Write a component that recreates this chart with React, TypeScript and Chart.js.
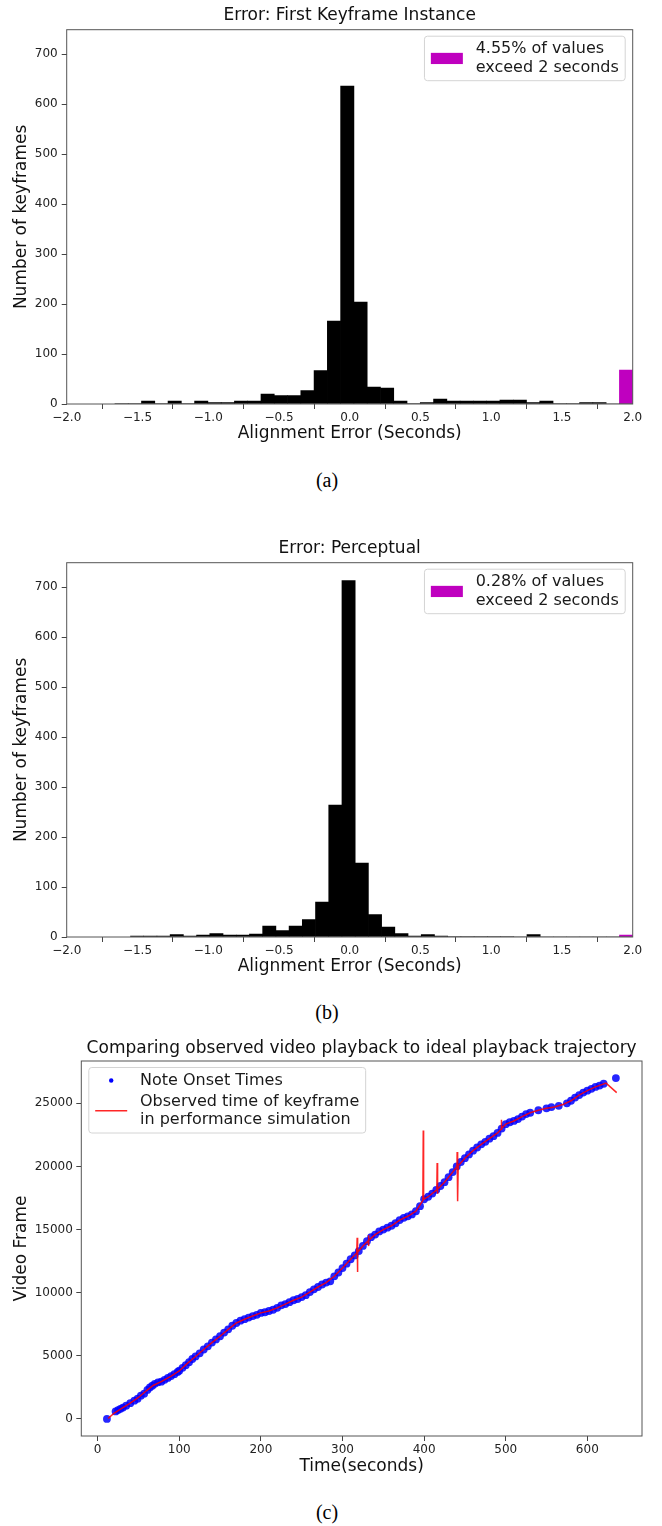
import React, { useEffect, useRef } from "react";
import { Chart, registerables } from "chart.js";
Chart.register(...registerables);

const FONT = "'DejaVu Sans', 'Noto Sans', sans-serif";

// ---------- Histogram (a) ----------
const A_TITLE = "Error: First Keyframe Instance";
const A_BIN_START = -1.659;
const A_BIN_END = 2.0;
const A_COUNTS = [1, 1, 6, 1, 6, 1, 6, 3, 3, 6, 6, 20, 17, 17, 27, 67, 166, 636, 204, 34, 32, 6, 1, 3, 10, 6, 6, 6, 6, 8, 8, 3, 6, 1, 1, 3, 3, 0, 0];
const A_OVER = 68;
const A_LEGEND = ["4.55% of values", "exceed 2 seconds"];

// ---------- Histogram (b) ----------
const B_TITLE = "Error: Perceptual";
const B_BIN_START = -1.549;
const B_BIN_END = 2.0;
const B_COUNTS = [2, 2, 2, 5, 2, 4, 7, 4, 4, 6, 22, 13, 22, 35, 70, 264, 713, 148, 45, 20, 7, 2, 5, 2, 1, 1, 1, 1, 1, 0, 5, 0, 0, 0, 0, 0, 0, 0];
const B_OVER = 4;
const B_LEGEND = ["0.28% of values", "exceed 2 seconds"];

const HIST_X_TICKS = [-2, -1.5, -1, -0.5, 0, 0.5, 1, 1.5, 2];
const HIST_Y_TICKS = [0, 100, 200, 300, 400, 500, 600, 700];
const HIST_Y_MAX = 748.65;
const HIST_X_TITLE = "Alignment Error (Seconds)";
const HIST_Y_TITLE = "Number of keyframes";

// ---------- Trajectory (c) ----------
const C_TITLE = "Comparing observed video playback to ideal playback trajectory";
const NOTE_TIMES = [11.4, 22, 25, 28, 31, 35, 40, 45, 49, 53, 57, 61, 64, 67, 70, 74, 78, 82, 86, 90, 94, 98, 100, 104, 108, 112, 116, 120, 125, 130, 135, 140, 145, 150, 155, 160, 165, 170, 175, 180, 185, 190, 195, 200, 205, 210, 215, 220, 225, 230, 235, 240, 245, 250, 255, 260, 265, 270, 275, 280, 285, 290, 295, 300, 305, 310, 315, 320, 325, 330, 335, 340, 345, 350, 355, 360, 365, 370, 375, 380, 385, 390, 395, 400, 405, 410, 415, 420, 425, 430, 435, 440, 445, 450, 455, 460, 465, 470, 475, 480, 485, 490, 495, 500, 505, 510, 515, 520, 525, 530, 540, 550, 556, 565, 575, 580, 585, 590, 595, 600, 605, 610, 615, 620, 635];
const NOTE_FRAMES = [0, 600, 700, 800, 900, 1050, 1250, 1450, 1600, 1840, 2000, 2300, 2500, 2630, 2780, 2900, 2950, 3100, 3250, 3400, 3550, 3720, 3816, 4050, 4263, 4500, 4750, 4950, 5200, 5500, 5750, 6050, 6300, 6550, 6840, 7100, 7380, 7600, 7780, 7900, 8030, 8150, 8250, 8400, 8450, 8550, 8650, 8800, 9000, 9100, 9250, 9400, 9500, 9650, 9800, 10050, 10270, 10450, 10650, 10800, 10900, 11300, 11600, 11950, 12300, 12650, 12950, 13300, 13700, 14080, 14400, 14600, 14850, 15000, 15150, 15300, 15500, 15750, 15930, 16050, 16200, 16450, 16850, 17400, 17600, 17850, 18150, 18450, 18750, 19150, 19550, 20000, 20350, 20650, 20950, 21250, 21500, 21750, 21950, 22200, 22400, 22650, 23000, 23350, 23500, 23600, 23750, 23950, 24150, 24250, 24450, 24600, 24700, 24800, 25000, 25200, 25450, 25650, 25850, 26000, 26150, 26300, 26400, 26550, 27000];
const KEY_TIMES = [13, 20, 30, 40, 50, 60, 68, 78, 90, 100, 110, 120, 130, 140, 150, 160, 170, 180, 190, 200, 210, 220, 230, 240, 250, 260, 270, 280, 290, 300, 310, 317.5, 318, 318.3, 318.8, 325, 331.4, 331.7, 332, 332.4, 340, 350, 360, 370, 380, 390, 398.5, 399, 399.4, 405, 415.6, 416, 416.3, 416.8, 425, 435, 440.3, 440.5, 440.8, 441.1, 441.4, 441.8, 450, 460, 470, 480, 490, 494.3, 494.6, 495, 500, 510, 520, 530, 540, 550, 560, 570, 580, 590, 600, 610, 623, 636];
const KEY_FRAMES = [50, 450, 850, 1250, 1700, 2250, 2650, 2950, 3400, 3800, 4400, 4950, 5500, 6050, 6550, 7100, 7600, 7900, 8150, 8400, 8550, 8800, 9100, 9400, 9650, 10050, 10450, 10800, 11300, 11950, 12650, 13150, 14350, 11640, 13200, 13700, 14100, 14540, 13690, 14150, 14600, 15000, 15300, 15750, 16050, 16450, 17300, 22850, 17380, 17600, 18150, 20280, 17830, 18200, 18750, 19550, 20000, 21150, 17250, 21100, 17300, 20050, 20650, 21250, 21750, 22200, 22650, 22950, 23700, 23000, 23350, 23600, 23950, 24250, 24450, 24600, 24700, 24900, 25200, 25650, 26000, 26300, 26600, 25850];
const C_X_TICKS = [0, 100, 200, 300, 400, 500, 600];
const C_Y_TICKS = [0, 5000, 10000, 15000, 20000, 25000];
const C_X_TITLE = "Time(seconds)";
const C_Y_TITLE = "Video Frame";
const C_LEGEND_1 = ["Note Onset Times"];
const C_LEGEND_2 = ["Observed time of keyframe", "in performance simulation"];

const TICK_COLOR = "#222";
const SPINE = "#555";
const LABEL_SIZE = 17;
const TICK_SIZE = 12;
const LEG_SIZE = 16;

type LegendItem = { kind: "patch" | "dot" | "line"; color: string; lines: string[] };

const decorPlugin = {
  id: "decor",
  afterDraw(chart: any, _args: any, opts: any) {
    const { ctx, chartArea: ca } = chart;
    ctx.save();
    // axes frame (spines)
    ctx.strokeStyle = SPINE;
    ctx.lineWidth = 1;
    ctx.strokeRect(ca.left, ca.top, ca.right - ca.left, ca.bottom - ca.top);
    // title
    ctx.fillStyle = "#111";
    ctx.font = `${LABEL_SIZE}px ${FONT}`;
    ctx.textAlign = "center";
    ctx.textBaseline = "middle";
    ctx.fillText(opts.title, (ca.left + ca.right) / 2, opts.titleY);
    // legend
    const items: LegendItem[] = opts.items;
    const f = LEG_SIZE;
    ctx.font = `${f}px ${FONT}`;
    let textW = 0;
    items.forEach((it) => it.lines.forEach((l) => (textW = Math.max(textW, ctx.measureText(l).width))));
    const padH = 0.4 * f, handle = 2 * f, hgap = 0.8 * f, lineH = 18.5, gap = 2.5, padV = 3.75;
    const boxW = padH + handle + hgap + textW + padH;
    let nLines = 0;
    items.forEach((it) => (nLines += it.lines.length));
    const boxH = padV * 2 + nLines * lineH + gap * (items.length - 1);
    const x0 = opts.anchor === "ur" ? ca.right - 7.5 - boxW : ca.left + 7.5;
    const y0 = ca.top + 6.5;
    ctx.beginPath();
    (ctx as any).roundRect(x0, y0, boxW, boxH, 3);
    ctx.fillStyle = "rgba(255,255,255,0.85)";
    ctx.fill();
    ctx.strokeStyle = "#d4d4d4";
    ctx.stroke();
    let y = y0 + padV;
    items.forEach((it) => {
      const h = it.lines.length * lineH;
      const cy = y + h / 2;
      const hx = x0 + padH;
      if (it.kind === "patch") {
        ctx.fillStyle = it.color;
        ctx.fillRect(hx, cy - 0.35 * f, handle, 0.7 * f);
      } else if (it.kind === "dot") {
        ctx.fillStyle = it.color;
        ctx.beginPath();
        ctx.arc(hx + handle / 2, cy, 2.2, 0, Math.PI * 2);
        ctx.fill();
      } else {
        ctx.strokeStyle = it.color;
        ctx.lineWidth = 1.5;
        ctx.beginPath();
        ctx.moveTo(hx, cy);
        ctx.lineTo(hx + handle, cy);
        ctx.stroke();
      }
      ctx.fillStyle = "#1a1a1a";
      ctx.textAlign = "left";
      ctx.textBaseline = "middle";
      it.lines.forEach((l, k) => ctx.fillText(l, hx + handle + hgap, y + k * lineH + lineH / 2));
      y += h + gap;
    });
    ctx.restore();
  },
};

const fmtHist = (v: number) => {
  const s = Math.abs(v).toFixed(1);
  return v < 0 ? "\u2212" + s : s;
};

function axisCommon(ticksArr: number[], fmt: (v: number) => string, pad: number) {
  return {
    afterBuildTicks: (s: any) => {
      s.ticks = ticksArr.map((v) => ({ value: v }));
    },
    ticks: {
      font: { family: FONT, size: TICK_SIZE },
      color: TICK_COLOR,
      padding: pad,
      maxRotation: 0,
      autoSkip: false,
      callback: (v: any) => fmt(Number(v)),
    },
    grid: { display: true, drawOnChartArea: false, drawTicks: true, tickLength: 5, color: "#444", lineWidth: 1 },
    border: { display: false },
  };
}

function axisTitle(text: string, top: number, bottom: number) {
  return {
    display: true,
    text,
    font: { family: FONT, size: LABEL_SIZE },
    color: "#111",
    padding: { top, bottom },
  };
}

function histConfig(counts: number[], start: number, end: number, over: number, title: string, legend: string[]) {
  const n = counts.length;
  const w = (end - start) / n;
  const centers = counts.map((_, i) => start + (i + 0.5) * w);
  return {
    type: "bar",
    data: {
      datasets: [
        {
          data: centers.map((x, i) => ({ x, y: counts[i] })),
          backgroundColor: "#000",
          borderWidth: 0,
          grouped: false,
          barPercentage: 1,
          categoryPercentage: 1,
        },
        {
          data: [{ x: centers[n - 1], y: over }],
          backgroundColor: "#bf00bf",
          borderWidth: 0,
          grouped: false,
          barPercentage: 1,
          categoryPercentage: 1,
        },
      ],
    },
    options: {
      animation: false,
      responsive: false,
      events: [],
      layout: { padding: { top: 29.7, right: 29.3, left: 0, bottom: 0 } },
      plugins: {
        legend: { display: false },
        tooltip: { enabled: false },
        decor: {
          title,
          titleY: 15.5,
          anchor: "ur",
          items: [{ kind: "patch", color: "#bf00bf", lines: legend }],
        },
      },
      scales: {
        x: {
          type: "linear",
          min: -2,
          max: 2,
          offset: false,
          afterFit: (s: any) => {
            s.height = 46;
          },
          ...axisCommon(HIST_X_TICKS, fmtHist, 2),
          title: axisTitle(HIST_X_TITLE, 0, 5.8),
        },
        y: {
          type: "linear",
          min: 0,
          max: HIST_Y_MAX,
          afterFit: (s: any) => {
            s.width = 66.7;
          },
          ...axisCommon(HIST_Y_TICKS, (v) => String(v), 4),
          title: axisTitle(HIST_Y_TITLE, 11.8, 0),
        },
      },
    },
    plugins: [decorPlugin],
  };
}

function trajConfig() {
  return {
    type: "scatter",
    data: {
      datasets: [
        {
          data: KEY_TIMES.map((x, i) => ({ x, y: KEY_FRAMES[i] })),
          showLine: true,
          borderColor: "rgba(255,0,0,0.85)",
          borderWidth: 1.5,
          pointRadius: 0,
          tension: 0,
        },
        {
          data: NOTE_TIMES.map((x, i) => ({ x, y: NOTE_FRAMES[i] })),
          showLine: false,
          pointRadius: 3.9,
          backgroundColor: "rgba(0,0,255,0.85)",
          borderWidth: 0,
        },
      ],
    },
    options: {
      animation: false,
      responsive: false,
      events: [],
      layout: { padding: { top: 31, right: 20, left: 0, bottom: 0 } },
      plugins: {
        legend: { display: false },
        tooltip: { enabled: false },
        decor: {
          title: C_TITLE,
          titleY: 18.5,
          anchor: "ul",
          items: [
            { kind: "dot", color: "#0000ff", lines: C_LEGEND_1 },
            { kind: "line", color: "rgba(255,0,0,0.85)", lines: C_LEGEND_2 },
          ],
        },
      },
      scales: {
        x: {
          type: "linear",
          min: -20,
          max: 667,
          afterFit: (s: any) => {
            s.height = 54;
          },
          ...axisCommon(C_X_TICKS, (v) => String(v), 2),
          title: axisTitle(C_X_TITLE, 0, 12.8),
        },
        y: {
          type: "linear",
          min: -1350,
          max: 28350,
          afterFit: (s: any) => {
            s.width = 81.3;
          },
          ...axisCommon(C_Y_TICKS, (v) => String(v), 3.5),
          title: axisTitle(C_Y_TITLE, 11.8, 0),
        },
      },
    },
    plugins: [decorPlugin],
  };
}

function ChartCanvas({ top, height, make }: { top: number; height: number; make: () => any }) {
  const ref = useRef<HTMLCanvasElement>(null);
  useEffect(() => {
    const chart = new Chart(ref.current as HTMLCanvasElement, make());
    return () => chart.destroy();
  }, []);
  return (
    <canvas
      ref={ref}
      width={662}
      height={height}
      style={{ position: "absolute", left: 0, top, width: 662, height }}
    />
  );
}

function Caption({ text, centerY }: { text: string; centerY: number }) {
  return (
    <div
      style={{
        position: "absolute",
        left: 0,
        width: 654,
        top: centerY - 12,
        height: 24,
        lineHeight: "24px",
        textAlign: "center",
        fontFamily: "'Liberation Serif', 'Times New Roman', serif",
        fontSize: 20,
        color: "#000",
      }}
    >
      {text}
    </div>
  );
}

export default function App() {
  return (
    <div style={{ position: "absolute", left: 0, top: 0, width: 662, height: 1526, background: "#fff" }}>
      <ChartCanvas top={0} height={450} make={() => histConfig(A_COUNTS, A_BIN_START, A_BIN_END, A_OVER, A_TITLE, A_LEGEND)} />
      <Caption text="(a)" centerY={480} />
      <ChartCanvas top={533} height={450} make={() => histConfig(B_COUNTS, B_BIN_START, B_BIN_END, B_OVER, B_TITLE, B_LEGEND)} />
      <Caption text="(b)" centerY={1012} />
      <ChartCanvas top={1030} height={460} make={trajConfig} />
      <Caption text="(c)" centerY={1512} />
    </div>
  );
}
